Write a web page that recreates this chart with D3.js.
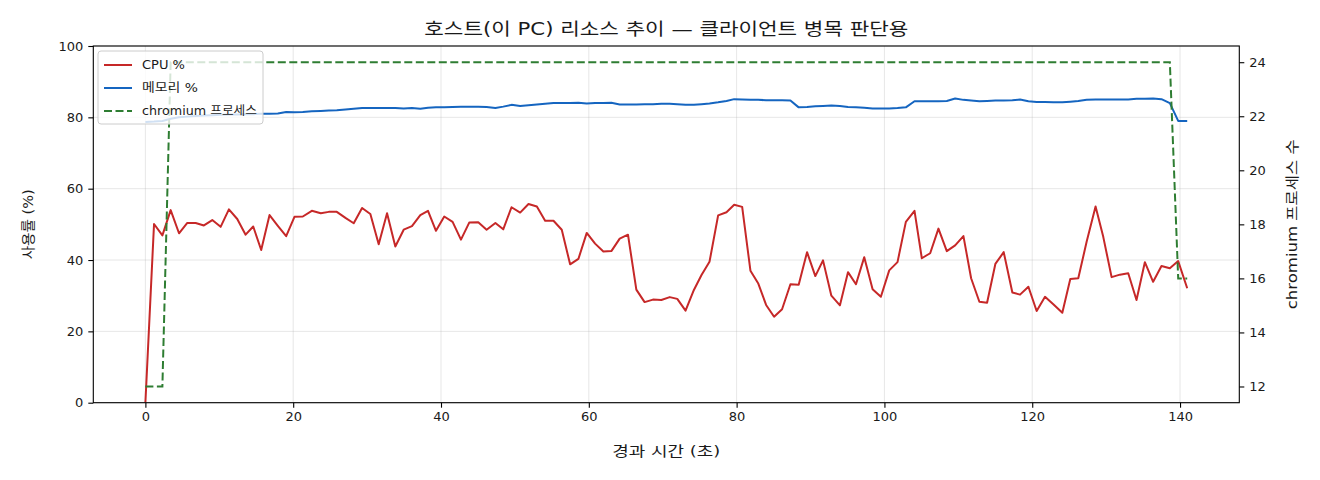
<!DOCTYPE html>
<html>
<head>
<meta charset="utf-8">
<script src="https://cdn.jsdelivr.net/npm/d3@7"></script>
<style>
  html, body { margin: 0; padding: 0; background: #fff; }
  svg text { font-family: "DejaVu Sans", "Noto Sans CJK KR", sans-serif; fill: #1a1a1a; }
</style>
</head>
<body>
<div id="chart"></div>
<script>
// elapsed time of each sample (s)
var times = [
  0, 1.17, 2.30, 3.42, 4.55, 5.67, 6.80, 7.92, 9.05, 10.18,
  11.30, 12.43, 13.56, 14.59, 15.67, 16.80, 17.92, 19.05, 20.17, 21.30,
  22.52, 23.73, 24.82, 25.90, 27.07, 28.19, 29.32, 30.44, 31.57, 32.70,
  33.82, 34.95, 36.07, 37.20, 38.24, 39.32, 40.44, 41.57, 42.70, 43.82,
  45.04, 46.17, 47.36, 48.42, 49.54, 50.71, 51.84, 52.97, 54.09, 55.22,
  56.34, 57.47, 58.59, 59.72, 60.85, 61.97, 63.05, 64.18, 65.30, 66.43,
  67.55, 68.68, 69.81, 70.95, 71.97, 73.09, 74.22, 75.25, 76.33, 77.50,
  78.63, 79.67, 80.75, 81.87, 82.91, 83.99, 85.07, 86.15, 87.28, 88.40,
  89.53, 90.65, 91.69, 92.82, 93.98, 95.07, 96.15, 97.27, 98.40, 99.52,
  100.65, 101.77, 102.90, 104.07, 105.06, 106.19, 107.31, 108.44, 109.57, 110.69,
  111.73, 112.85, 113.89, 115.01, 116.14, 117.31, 118.35, 119.48, 120.60, 121.73,
  122.85, 124.07, 125.15, 126.23, 127.36, 128.57, 129.61, 130.74, 131.86, 132.99,
  134.11, 135.24, 136.36, 137.49, 138.62, 139.75, 140.97
];

var cpu = [
  0, 50.1, 46.9, 54.0, 47.5, 50.4, 50.4, 49.7, 51.2, 49.3,
  54.2, 51.5, 47.1, 49.4, 42.8, 52.6, 49.6, 46.7, 52.1, 52.2,
  53.8, 53.1, 53.5, 53.5, 51.8, 50.3, 54.6, 52.9, 44.4, 53.1,
  43.8, 48.5, 49.5, 52.6, 53.8, 48.2, 52.2, 50.7, 45.7, 50.5,
  50.6, 48.5, 50.4, 48.6, 54.8, 53.3, 55.7, 55.0, 51.0, 51.0,
  48.5, 38.8, 40.3, 47.6, 44.6, 42.4, 42.5, 46.0, 47.1, 31.7,
  28.2, 28.9, 28.8, 29.6, 29.1, 25.8, 31.6, 35.8, 39.5, 52.5,
  53.4, 55.5, 54.9, 37.0, 33.5, 27.4, 24.1, 26.2, 33.2, 33.1,
  42.2, 35.5, 39.9, 30.0, 27.3, 36.6, 33.2, 40.8, 31.8, 29.7,
  37.1, 39.4, 50.7, 53.8, 40.5, 41.9, 48.8, 42.5, 44.1, 46.7,
  34.9, 28.3, 28.0, 38.9, 42.2, 30.9, 30.3, 32.5, 25.7, 29.7,
  27.6, 25.2, 34.7, 34.9, 45.1, 55.0, 46.5, 35.2, 35.9, 36.3,
  28.8, 39.4, 33.9, 38.3, 37.7, 39.7, 32.1
];

var mem = [
  78.7, 78.8, 79.0, 79.6, 80.0, 80.2, 80.4, 80.5, 80.6, 80.7,
  80.8, 80.8, 80.9, 80.9, 81.0, 81.0, 81.1, 81.5, 81.4, 81.5,
  81.7, 81.8, 81.9, 82.0, 82.2, 82.4, 82.6, 82.6, 82.6, 82.6,
  82.6, 82.5, 82.6, 82.4, 82.7, 82.8, 82.8, 82.9, 83.0, 83.0,
  83.0, 82.9, 82.6, 83.0, 83.5, 83.2, 83.4, 83.6, 83.8, 84.0,
  84.0, 84.0, 84.1, 83.9, 84.0, 84.0, 84.1, 83.6, 83.6, 83.6,
  83.7, 83.7, 83.8, 83.8, 83.7, 83.5, 83.5, 83.7, 83.9, 84.2,
  84.6, 85.1, 85.0, 84.9, 84.9, 84.8, 84.8, 84.8, 84.7, 82.8,
  82.9, 83.1, 83.2, 83.3, 83.2, 82.9, 82.8, 82.7, 82.5, 82.5,
  82.5, 82.6, 82.8, 84.5, 84.5, 84.5, 84.5, 84.6, 85.3, 84.9,
  84.7, 84.5, 84.6, 84.7, 84.7, 84.8, 85.0, 84.5, 84.3, 84.3,
  84.2, 84.2, 84.4, 84.6, 84.9, 85.0, 85.0, 85.0, 85.0, 85.0,
  85.2, 85.2, 85.3, 85.1, 84.0, 79.0, 79.0
];

var chromium = [
  12, 12, 12, 24, 24, 24, 24, 24, 24, 24,
  24, 24, 24, 24, 24, 24, 24, 24, 24, 24,
  24, 24, 24, 24, 24, 24, 24, 24, 24, 24,
  24, 24, 24, 24, 24, 24, 24, 24, 24, 24,
  24, 24, 24, 24, 24, 24, 24, 24, 24, 24,
  24, 24, 24, 24, 24, 24, 24, 24, 24, 24,
  24, 24, 24, 24, 24, 24, 24, 24, 24, 24,
  24, 24, 24, 24, 24, 24, 24, 24, 24, 24,
  24, 24, 24, 24, 24, 24, 24, 24, 24, 24,
  24, 24, 24, 24, 24, 24, 24, 24, 24, 24,
  24, 24, 24, 24, 24, 24, 24, 24, 24, 24,
  24, 24, 24, 24, 24, 24, 24, 24, 24, 24,
  24, 24, 24, 24, 24, 16, 16
];

var xTicks = [0, 20, 40, 60, 80, 100, 120, 140];
var yTicks = [0, 20, 40, 60, 80, 100];
var y2Ticks = [12, 14, 16, 18, 20, 22, 24];

var seriesNames = ['CPU %', '메모리 %', 'chromium 프로세스'];
var colors = ['#c62828', '#1565c0', '#2e7d32'];

var W = 1320, H = 480;
var margin = {left: 93.3, right: 1320 - 1239.3, top: 46, bottom: 480 - 402.7};

var svg = d3.select('#chart').append('svg')
  .attr('width', W)
  .attr('height', H);

// widen a text to the width it has in the reference (the original font runs wider)
function fit(sel, target) {
  var w = sel.node().getComputedTextLength();
  if (Math.abs(w - target) > 2) sel.attr('textLength', target).attr('lengthAdjust', 'spacingAndGlyphs');
}

// matplotlib-like 5% padding on x and on the right axis
var xr = d3.extent(times), xp = (xr[1] - xr[0]) * 0.05;
var x = d3.scaleLinear().domain([xr[0] - xp, xr[1] + xp]).range([margin.left, W - margin.right]);
var y = d3.scaleLinear().domain([0, 100]).range([H - margin.bottom, margin.top]);
var cr = d3.extent(chromium), cp = (cr[1] - cr[0]) * 0.05;
var y2 = d3.scaleLinear().domain([cr[0] - cp, cr[1] + cp]).range([H - margin.bottom, margin.top]);

var data = times.map(function(t, i) { return {t: t, cpu: cpu[i], mem: mem[i], chr: chromium[i]}; });

// grid
var grid = svg.append('g').attr('stroke', '#b0b0b0').attr('stroke-opacity', 0.3).attr('stroke-width', 1);
grid.selectAll('.gx').data(xTicks).enter().append('line')
  .attr('x1', function(d) { return x(d); }).attr('x2', function(d) { return x(d); })
  .attr('y1', y.range()[0]).attr('y2', y.range()[1]);
grid.selectAll('.gy').data(yTicks).enter().append('line')
  .attr('y1', function(d) { return y(d); }).attr('y2', function(d) { return y(d); })
  .attr('x1', x.range()[0]).attr('x2', x.range()[1]);

svg.append('clipPath').attr('id', 'plotclip').append('rect')
  .attr('x', x.range()[0]).attr('y', margin.top)
  .attr('width', x.range()[1] - x.range()[0]).attr('height', y.range()[0] - margin.top);

var plot = svg.append('g').attr('clip-path', 'url(#plotclip)');

var cpuLine = d3.line().x(function(d) { return x(d.t); }).y(function(d) { return y(d.cpu); });
var memLine = d3.line().x(function(d) { return x(d.t); }).y(function(d) { return y(d.mem); });
var chrLine = d3.line().x(function(d) { return x(d.t); }).y(function(d) { return y2(d.chr); });

plot.append('path').datum(data).attr('d', cpuLine)
  .attr('fill', 'none').attr('stroke', colors[0]).attr('stroke-width', 2).attr('stroke-linejoin', 'round');
plot.append('path').datum(data).attr('d', memLine)
  .attr('fill', 'none').attr('stroke', colors[1]).attr('stroke-width', 2).attr('stroke-linejoin', 'round');

// legend (sits on the left axes, under the twin axis line)
var legendWidths = [43, 56, 115];
var lg = svg.append('g').attr('transform', 'translate(98,51)');
lg.append('rect').attr('width', 165).attr('height', 73).attr('rx', 3)
  .attr('fill', '#fff').attr('fill-opacity', 0.8)
  .attr('stroke', '#cccccc').attr('stroke-width', 1);
seriesNames.forEach(function(name, i) {
  var row = lg.append('g').attr('transform', 'translate(0,' + (14 + i * 23) + ')');
  row.append('line').attr('x1', 6).attr('x2', 34).attr('y1', 0).attr('y2', 0)
    .attr('stroke', colors[i]).attr('stroke-width', 2)
    .attr('stroke-dasharray', i === 2 ? '8,3.5' : null);
  var t = row.append('text').attr('x', 44).attr('y', 0).attr('dy', '0.36em')
    .attr('font-size', 12).text(name);
  fit(t, legendWidths[i]);
});

// chromium count on the twin axis
plot.append('path').datum(data).attr('d', chrLine)
  .attr('fill', 'none').attr('stroke', colors[2]).attr('stroke-width', 2)
  .attr('stroke-dasharray', '8,3.5');

// frame
svg.append('rect').attr('x', x.range()[0]).attr('y', margin.top)
  .attr('width', x.range()[1] - x.range()[0]).attr('height', y.range()[0] - margin.top)
  .attr('fill', 'none').attr('stroke', '#000').attr('stroke-width', 1.1);

// axes
function styleAxis(g) {
  g.select('.domain').remove();
  g.selectAll('.tick line').attr('stroke', '#000').attr('stroke-width', 1.1);
  g.selectAll('.tick text').attr('font-size', 13).attr('fill', '#1a1a1a')
    .style('font-family', '"DejaVu Sans", "Noto Sans CJK KR", sans-serif');
}
svg.append('g').attr('transform', 'translate(0,' + y.range()[0] + ')')
  .call(d3.axisBottom(x).tickValues(xTicks).tickSize(5).tickPadding(4).tickFormat(d3.format('d')))
  .call(styleAxis);
svg.append('g').attr('transform', 'translate(' + x.range()[0] + ',0)')
  .call(d3.axisLeft(y).tickValues(yTicks).tickSize(5).tickPadding(5).tickFormat(d3.format('d')))
  .call(styleAxis);
svg.append('g').attr('transform', 'translate(' + x.range()[1] + ',0)')
  .call(d3.axisRight(y2).tickValues(y2Ticks).tickSize(5).tickPadding(5).tickFormat(d3.format('d')))
  .call(styleAxis);

// labels
var midX = (x.range()[0] + x.range()[1]) / 2, midY = (y.range()[0] + margin.top) / 2;
fit(svg.append('text').attr('x', midX).attr('y', 35)
  .attr('text-anchor', 'middle').attr('font-size', 17.5)
  .text('호스트(이 PC) 리소스 추이 — 클라이언트 병목 판단용'), 484);
fit(svg.append('text').attr('x', midX).attr('y', 456)
  .attr('text-anchor', 'middle').attr('font-size', 14)
  .text('경과 시간 (초)'), 108);
fit(svg.append('text')
  .attr('transform', 'translate(33,' + midY + ') rotate(-90)')
  .attr('text-anchor', 'middle').attr('font-size', 14)
  .text('사용률 (%)'), 70);
fit(svg.append('text')
  .attr('transform', 'translate(1297,' + midY + ') rotate(-90)')
  .attr('text-anchor', 'middle').attr('font-size', 14)
  .text('chromium 프로세스 수'), 170);
</script>
</body>
</html>
